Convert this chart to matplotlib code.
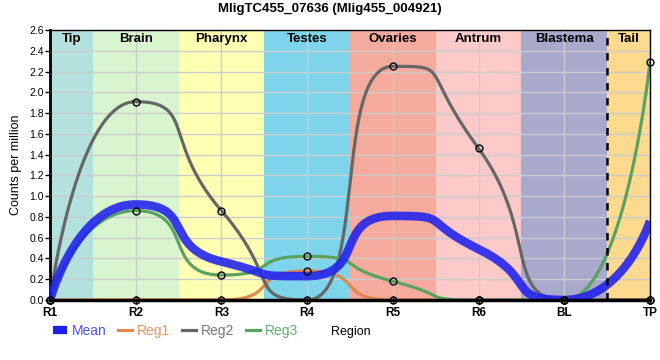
import numpy as np
import matplotlib.pyplot as plt
from matplotlib.lines import Line2D

plt.rcParams['font.family'] = ['Liberation Sans', 'DejaVu Sans']

# data
regions = ["R1", "R2", "R3", "R4", "R5", "R6", "BL", "TP"]
mean_vals = [0.0, 0.92, 0.37, 0.23, 0.81, 0.49, 0.0, 0.76]
reg1_vals = [0.0, 0.0, 0.0, 0.28, 0.0, 0.0, 0.0, 0.0]
reg2_vals = [0.0, 1.91, 0.86, 0.0, 2.25, 1.46, 0.0, 0.0]
reg3_vals = [0.0, 0.86, 0.24, 0.42, 0.18, 0.0, 0.0, 2.29]

band_names = ["Tip", "Brain", "Pharynx", "Testes", "Ovaries", "Antrum", "Blastema", "Tail"]
band_colors = ["#b3e2de", "#d8f5d0", "#ffffb4", "#7dd4eb", "#f4aa9c", "#fdcaca", "#a9a8cd", "#fdda8d"]

series_names = ["Mean", "Reg1", "Reg2", "Reg3"]
series_colors = ["#2020ee", "#e0894c", "#666666", "#5aa260"]
text_colors = ["#5050f0", "#e8955a", "#777777", "#5fae6b"]


def smooth(y, k=0.7, n=60):
    """Bezier spline through the points, flat at local extrema."""
    y = np.asarray(y, dtype=float)
    x = np.arange(len(y), dtype=float)
    m = np.zeros_like(y)
    for i in range(1, len(y) - 1):
        d0 = y[i] - y[i - 1]
        d1 = y[i + 1] - y[i]
        if d0 * d1 > 0:
            s = (y[i + 1] - y[i - 1]) / 2
            lim = min(abs(d0), abs(d1)) / k
            m[i] = np.sign(s) * min(abs(s), lim)
    t = np.linspace(0, 1, n)
    xs, ys = [], []
    for i in range(len(y) - 1):
        a0 = k if i > 0 else 0.0
        a1 = k if i + 1 < len(y) - 1 else 0.0
        pts = [(x[i], y[i]),
               (x[i] + a0, y[i] + a0 * m[i]),
               (x[i + 1] - a1, y[i + 1] - a1 * m[i + 1]),
               (x[i + 1], y[i + 1])]
        b = [(1 - t) ** 3, 3 * (1 - t) ** 2 * t, 3 * (1 - t) * t ** 2, t ** 3]
        xs.append(sum(bb * p[0] for bb, p in zip(b, pts)))
        ys.append(sum(bb * p[1] for bb, p in zip(b, pts)))
    return np.concatenate(xs), np.concatenate(ys)


fig = plt.figure(figsize=(6.6, 3.6), dpi=100)
ax = fig.add_axes([50 / 660, 60 / 360, 600 / 660, 270 / 360])

xpos = np.arange(len(regions))
edges = np.concatenate([[0], xpos[:-1] + 0.5, [xpos[-1]]])
for i, (name, col) in enumerate(zip(band_names, band_colors)):
    ax.axvspan(edges[i], edges[i + 1], color=col, lw=0, zorder=0.2)
    ax.text((edges[i] + edges[i + 1]) / 2, 0.965, name, transform=ax.get_xaxis_transform(),
            ha='center', va='center', fontsize=9.5, fontweight='bold', zorder=5)

ax.axvline(6.5, color='black', ls=(0, (3, 3)), lw=1.8, zorder=4)

all_vals = [mean_vals, reg1_vals, reg2_vals, reg3_vals]
handles = []
for name, vals, col in zip(series_names, all_vals, series_colors):
    sx, sy = smooth(vals)
    if name == "Mean":
        ax.plot(sx, sy, color=col, lw=6.2, alpha=0.88, solid_capstyle='butt', zorder=3)
        handles.append(Line2D([], [], color=col, lw=6, solid_capstyle='butt'))
    else:
        ax.plot(sx, sy, color=col, lw=2.3, zorder=2.5)
        ax.plot(xpos, vals, 'o', ms=5, mfc='none', mec='black', mew=1, clip_on=False, zorder=6)
        handles.append(Line2D([], [], color=col, lw=2.3))

ax.set_xlim(0, 7)
ax.set_ylim(0, 2.6)
ax.set_yticks(np.arange(0, 2.61, 0.2))
ax.set_yticklabels([f"{v:.1f}" for v in np.arange(0, 2.61, 0.2)], fontsize=7.5)
ax.set_xticks(xpos)
ax.set_xticklabels(regions, fontsize=8.5, fontweight='bold')
ax.tick_params(axis='y', length=3.5, width=1, pad=1)
ax.tick_params(axis='x', direction='inout', length=6, width=1, pad=2)

ax.set_axisbelow(True)
ax.grid(True, color='#cccccc', lw=1)

for side in ['top', 'right']:
    ax.spines[side].set_linewidth(1)
ax.spines['left'].set_linewidth(2)
ax.spines['bottom'].set_linewidth(2.5)
ax.spines['bottom'].set_zorder(5)

fig.text(330 / 660, 1 - 9 / 360, "MligTC455_07636 (Mlig455_004921)", ha='center', va='center',
         fontsize=9.5, fontweight='bold')
fig.text(16 / 660, 1 - 165 / 360, "Counts per million", rotation=90, ha='center', va='center', fontsize=9)
fig.text(351 / 660, 1 - 332 / 360, "Region", ha='center', va='center', fontsize=9)

leg = fig.legend(handles, series_names, loc='center left', bbox_to_anchor=(53 / 660, 1 - 331 / 360),
                 ncol=4, frameon=False, handlelength=1.0, handletextpad=0.35, columnspacing=0.85,
                 fontsize=10, borderaxespad=0, borderpad=0)
for txt, c in zip(leg.get_texts(), text_colors):
    txt.set_color(c)

fig.savefig("out.png", dpi=100)
